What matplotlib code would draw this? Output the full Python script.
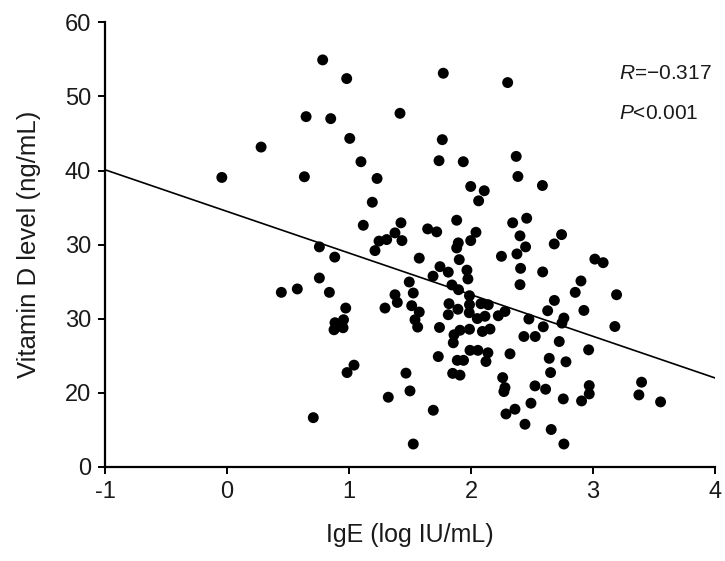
import matplotlib
matplotlib.use("Agg")
import matplotlib.pyplot as plt
import numpy as np

# ── Data ──────────────────────────────────────────────────────────────────────
ige = [
    0.784, 0.981, 0.648, 0.850, 1.006, 0.279, 1.098, -0.043, 0.634, 1.230,
    1.191, 1.117, 0.757, 0.883, 1.213, 1.246, 0.757, 0.445, 0.576, 0.839,
    0.973, 0.885, 0.955, 0.951, 0.877, 1.041, 0.984, 0.707, 1.773, 2.301,
    1.418, 1.765, 2.371, 1.738, 1.937, 2.385, 2.586, 1.998, 2.109, 2.063,
    1.883, 1.426, 2.457, 2.342, 1.645, 1.719, 1.377, 2.041, 2.402, 1.309,
    1.434, 1.998, 1.896, 1.883, 2.448, 2.683, 2.743, 1.576, 1.904, 2.250,
    2.377, 3.016, 3.084, 1.746, 1.814, 1.689, 1.967, 1.975, 1.844, 1.898,
    1.988, 2.407, 2.588, 2.402, 1.494, 1.527, 1.377, 1.396, 1.295, 1.514,
    1.576, 1.541, 1.563, 1.820, 1.893, 1.814, 1.988, 1.986, 2.082, 2.142,
    2.052, 2.115, 2.224, 2.279, 2.475, 2.593, 2.629, 2.684, 1.742, 1.910,
    1.861, 1.988, 2.094, 2.156, 1.855, 2.434, 2.527, 1.992, 2.057, 2.139,
    1.732, 1.888, 1.939, 2.123, 2.320, 2.642, 1.467, 1.850, 1.910, 2.260,
    2.653, 2.279, 2.270, 2.525, 2.612, 1.500, 1.322, 2.492, 2.361, 2.287,
    1.691, 2.443, 2.658, 1.527, 2.902, 2.855, 3.194, 2.926, 2.762, 2.746,
    3.180, 2.724, 2.965, 2.779, 2.970, 2.970, 2.907, 2.757, 3.399, 3.377,
    3.555, 2.762,
]
vit_d = [
    54.94, 52.42, 47.28, 47.01, 44.34, 43.17, 41.19, 39.07, 39.16, 38.93,
    35.72, 32.61, 29.69, 28.31, 29.19, 30.47, 25.49, 23.55, 24.01, 23.55,
    21.43, 19.45, 19.85, 18.77, 18.50, 13.72, 12.72, 6.63, 53.14, 51.88,
    47.73, 44.17, 41.91, 41.33, 41.19, 39.20, 37.98, 37.85, 37.27, 35.91,
    33.29, 32.94, 33.56, 32.94, 32.12, 31.72, 31.58, 31.66, 31.18, 30.68,
    30.54, 30.54, 30.23, 29.55, 29.69, 30.09, 31.35, 28.17, 27.97, 28.42,
    28.74, 28.04, 27.56, 27.02, 26.28, 25.74, 26.55, 25.36, 24.55, 23.91,
    23.10, 26.79, 26.31, 24.59, 24.95, 23.46, 23.23, 22.19, 21.43, 21.75,
    20.89, 19.85, 18.86, 22.02, 21.27, 20.53, 21.88, 20.80, 22.02, 21.88,
    20.01, 20.32, 20.39, 20.97, 19.95, 18.90, 21.07, 22.46, 18.81, 18.43,
    17.82, 18.57, 18.27, 18.59, 16.74, 17.59, 17.59, 15.72, 15.72, 15.39,
    14.88, 14.37, 14.37, 14.21, 15.25, 14.64, 12.64, 12.61, 12.37, 12.04,
    12.72, 10.69, 10.15, 10.92, 10.47, 10.24, 9.39, 8.58, 7.77, 7.13,
    7.63, 5.74, 5.03, 3.07, 25.09, 23.55, 23.23, 21.11, 20.08, 19.40,
    18.94, 16.91, 15.79, 14.17, 10.96, 9.84, 8.89, 9.16, 11.42, 9.70,
    8.76, 3.07,
]

# regression line as drawn (endpoints at x = -1 and x = 4)
fit_x = [-1, 4]
fit_y = [40.1, 12.0]

x_ticks = [-1, 0, 1, 2, 3, 4]
y_ticks = [0, 10, 20, 30, 40, 50, 60]
y_tick_labels = ["0", "20", "30", "30", "40", "50", "60"]  # as printed in the figure

TEXT_COLOR = "#1a1a1a"
plt.rcParams["font.family"] = ["Liberation Sans", "DejaVu Sans"]
plt.rcParams["mathtext.fontset"] = "custom"
plt.rcParams["mathtext.rm"] = "Liberation Sans"
plt.rcParams["mathtext.it"] = "Liberation Sans:italic"

fig = plt.figure(figsize=(7.25, 5.61), dpi=100)
ax = fig.add_axes([0.145, 0.168, 0.841, 0.792])

ax.scatter(ige, vit_d, s=62, color="black", edgecolors="none", zorder=3)
ax.plot(fit_x, fit_y, color="black", lw=1.2, zorder=2)

ax.set_xlim(-1, 4)
ax.set_ylim(0, 60)
ax.set_xticks(x_ticks)
ax.set_xticklabels([str(t) for t in x_ticks])
ax.set_yticks(y_ticks)
ax.set_yticklabels(y_tick_labels)

for side in ("top", "right"):
    ax.spines[side].set_visible(False)
for side in ("left", "bottom"):
    ax.spines[side].set_linewidth(1.6)
ax.tick_params(direction="out", length=5, width=1.4, labelsize=17,
               pad=5, labelcolor=TEXT_COLOR)

ax.set_xlabel("IgE (log IU/mL)", fontsize=18, labelpad=15, color=TEXT_COLOR)
ax.set_ylabel("Vitamin D level (ng/mL)", fontsize=18.5, labelpad=17,
              color=TEXT_COLOR)

ax.text(0.842, 0.885, r"$\it{R}$=−0.317", transform=ax.transAxes,
        fontsize=15, ha="left", va="center", color=TEXT_COLOR)
ax.text(0.842, 0.795, r"$\it{P}$<0.001", transform=ax.transAxes,
        fontsize=15, ha="left", va="center", color=TEXT_COLOR)

fig.savefig("out.png", dpi=100, facecolor="white")
